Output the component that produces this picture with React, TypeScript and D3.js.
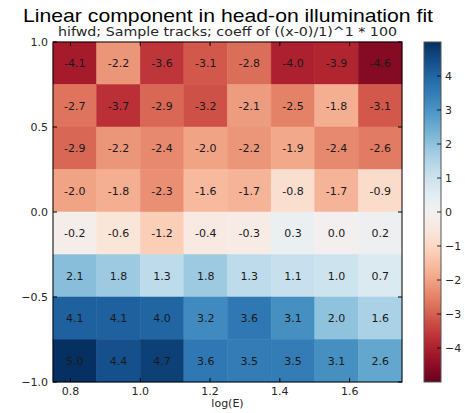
import React from "react";
import * as d3 from "d3";

// Bin edges along log(E) (columns) and along the vertical axis (rows, top to bottom)
const xBinEdges = [0.75, 0.875, 1.0, 1.125, 1.25, 1.375, 1.5, 1.625, 1.75];
const yBinEdges = [1.0, 0.75, 0.5, 0.25, 0.0, -0.25, -0.5, -0.75, -1.0];

// Fitted coefficients per cell, rows listed from top to bottom
const row0 = [-4.1, -2.2, -3.6, -3.1, -2.8, -4.0, -3.9, -4.6];
const row1 = [-2.7, -3.7, -2.9, -3.2, -2.1, -2.5, -1.8, -3.1];
const row2 = [-2.9, -2.2, -2.4, -2.0, -2.2, -1.9, -2.4, -2.6];
const row3 = [-2.0, -1.8, -2.3, -1.6, -1.7, -0.8, -1.7, -0.9];
const row4 = [-0.2, -0.6, -1.2, -0.4, -0.3, 0.3, 0.0, 0.2];
const row5 = [2.1, 1.8, 1.3, 1.8, 1.3, 1.1, 1.0, 0.7];
const row6 = [4.1, 4.1, 4.0, 3.2, 3.6, 3.1, 2.0, 1.6];
const row7 = [5.0, 4.4, 4.7, 3.6, 3.5, 3.5, 3.1, 2.6];
const rows = [row0, row1, row2, row3, row4, row5, row6, row7];

const xTicks = [0.8, 1.0, 1.2, 1.4, 1.6];
const yTicks = [1.0, 0.5, 0.0, -0.5, -1.0];
const cbTicks = [4, 3, 2, 1, 0, -1, -2, -3, -4];
const colorLimits = [-5, 5];

const title = "Linear component in head-on illumination fit";
const subtitle = "hifwd; Sample tracks; coeff of ((x-0)/1)^1 * 100";
const xLabel = "log(E)";

const fmtTick = (v: number, digits: number) =>
  v.toFixed(digits).replace("-", "\u2212");

export default function App() {
  const W = 465;
  const H = 413;
  const left = 53;
  const right = 402;
  const top = 42;
  const bottom = 382;

  const x = d3.scaleLinear().domain([0.75, 1.75]).range([left, right]);
  const y = d3.scaleLinear().domain([-1, 1]).range([bottom, top]);

  const color = d3
    .scaleSequential(d3.interpolateRdBu)
    .domain(colorLimits as [number, number]);

  const cbLeft = 424;
  const cbRight = 441;
  const cb = d3.scaleLinear().domain(colorLimits).range([bottom, top]);
  const gradStops = d3.range(0, 1.0001, 0.02);

  const font = "'DejaVu Sans', sans-serif";
  const textColor = "#262626";
  const tickLen = 4;

  return (
    <svg
      width={W}
      height={H}
      style={{ position: "absolute", left: 0, top: 0, background: "#fff" }}
    >
      <defs>
        <linearGradient id="cbGrad" x1="0" y1="1" x2="0" y2="0">
          {gradStops.map((t) => (
            <stop
              key={t}
              offset={t}
              stopColor={color(colorLimits[0] + t * (colorLimits[1] - colorLimits[0]))}
            />
          ))}
        </linearGradient>
      </defs>

      <text
        x={228}
        y={22}
        textAnchor="middle"
        fontFamily="'Liberation Sans', Arial, sans-serif"
        fontSize={19}
        textLength={410}
        lengthAdjust="spacingAndGlyphs"
        fill="#000"
      >
        {title}
      </text>
      <text
        x={227.5}
        y={36}
        textAnchor="middle"
        fontFamily={font}
        fontSize={12}
        textLength={339}
        lengthAdjust="spacingAndGlyphs"
        fill={textColor}
      >
        {subtitle}
      </text>

      {/* heatmap cells */}
      {rows.map((vals, r) =>
        vals.map((v, c) => {
          const x0 = x(xBinEdges[c]);
          const x1 = x(xBinEdges[c + 1]);
          const y0 = y(yBinEdges[r]);
          const y1 = y(yBinEdges[r + 1]);
          return (
            <g key={`${r}-${c}`}>
              <rect
                x={x0}
                y={y0}
                width={x1 - x0}
                height={y1 - y0}
                fill={color(v)}
                stroke={color(v)}
                strokeWidth={0.5}
              />
              <text
                x={(x0 + x1) / 2}
                y={(y0 + y1) / 2}
                dy="0.35em"
                textAnchor="middle"
                fontFamily={font}
                fontSize={11}
                fill="#1a1a1a"
              >
                {v.toFixed(1)}
              </text>
            </g>
          );
        })
      )}

      {/* axes frame */}
      <rect
        x={left}
        y={top}
        width={right - left}
        height={bottom - top}
        fill="none"
        stroke="#000"
        strokeWidth={1}
      />

      {/* x ticks */}
      {xTicks.map((t) => (
        <g key={`xt${t}`}>
          <line x1={x(t)} x2={x(t)} y1={bottom} y2={bottom - tickLen} stroke="#000" />
          <line x1={x(t)} x2={x(t)} y1={top} y2={top + tickLen} stroke="#000" />
          <text
            x={x(t)}
            y={395}
            textAnchor="middle"
            fontFamily={font}
            fontSize={11}
            fill={textColor}
          >
            {fmtTick(t, 1)}
          </text>
        </g>
      ))}
      <text
        x={(left + right) / 2}
        y={407}
        textAnchor="middle"
        fontFamily={font}
        fontSize={11}
        fill={textColor}
      >
        {xLabel}
      </text>

      {/* y ticks */}
      {yTicks.map((t) => (
        <g key={`yt${t}`}>
          <line x1={left} x2={left + tickLen} y1={y(t)} y2={y(t)} stroke="#000" />
          <line x1={right} x2={right - tickLen} y1={y(t)} y2={y(t)} stroke="#000" />
          <text
            x={48}
            y={y(t)}
            dy="0.35em"
            textAnchor="end"
            fontFamily={font}
            fontSize={11}
            fill={textColor}
          >
            {fmtTick(t, 1)}
          </text>
        </g>
      ))}

      {/* colorbar */}
      <rect
        x={cbLeft}
        y={top}
        width={cbRight - cbLeft}
        height={bottom - top}
        fill="url(#cbGrad)"
        stroke="#555"
        strokeWidth={1}
      />
      {cbTicks.map((t) => (
        <g key={`cb${t}`}>
          <line x1={cbRight} x2={cbRight - tickLen} y1={cb(t)} y2={cb(t)} stroke="#000" strokeWidth={0.8} />
          <text
            x={445}
            y={cb(t)}
            dy="0.35em"
            textAnchor="start"
            fontFamily={font}
            fontSize={11}
            fill={textColor}
          >
            {fmtTick(t, 0)}
          </text>
        </g>
      ))}
    </svg>
  );
}
